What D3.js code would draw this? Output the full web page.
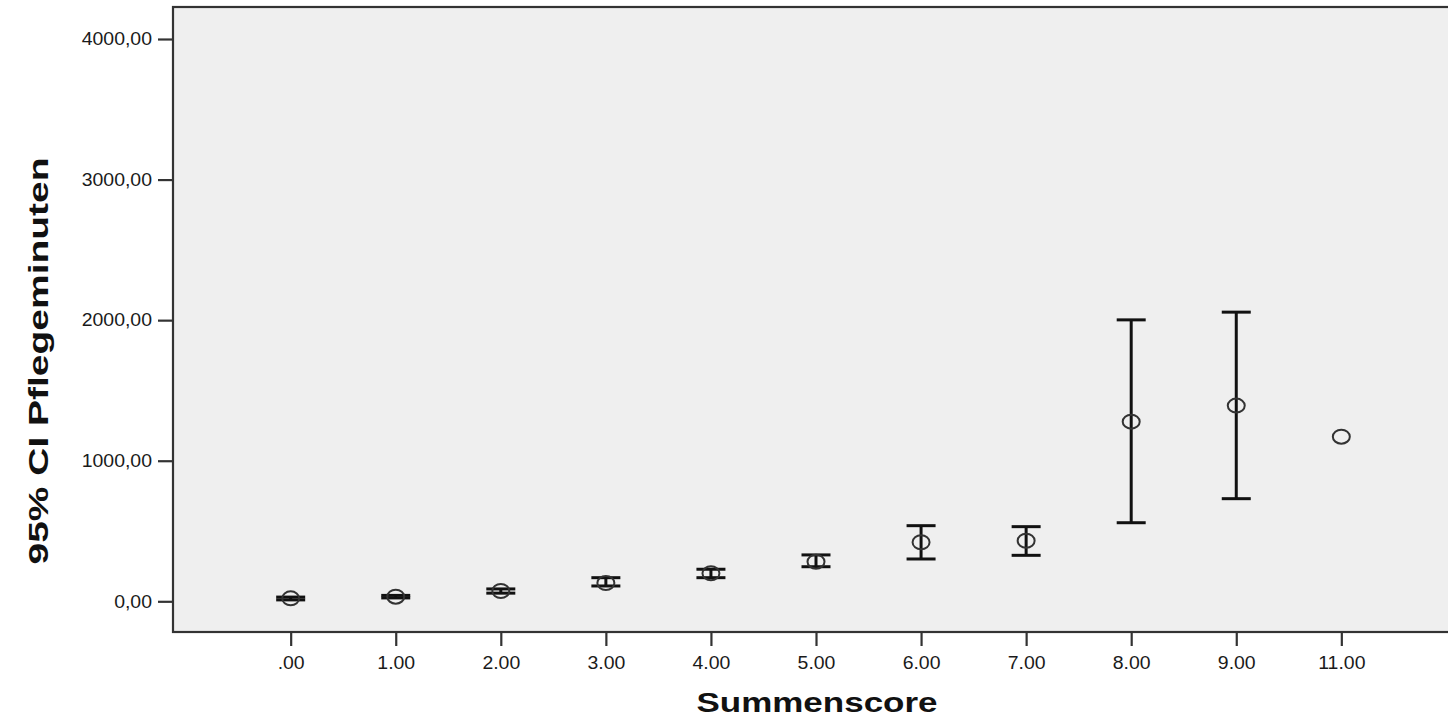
<!DOCTYPE html>
<html>
<head>
<meta charset="utf-8">
<script src="https://cdn.jsdelivr.net/npm/d3@7"></script>
<style>
  body { margin: 0; background: #fff; }
  svg { display: block; }
</style>
</head>
<body>
<svg id="chart" width="1448" height="718"></svg>
<script>
'use strict';

// Summenscore groups and the 95% CI of Pflegeminuten
var categories = [".00", "1.00", "2.00", "3.00", "4.00", "5.00", "6.00", "7.00", "8.00", "9.00", "11.00"];
var means      = [21, 33, 73, 130, 199, 282, 420, 431, 1278, 1392, 1171];
var lower      = [10, 24, 58, 109, 168, 246, 301, 327, 559, 730, null];
var upper      = [30, 42, 88, 168, 228, 330, 538, 531, 2002, 2057, null];
var yTicks     = [0, 1000, 2000, 3000, 4000];

var svg = d3.select("#chart");

// plot frame (right side runs off the picture)
var frame = { left: 173, top: 7, bottom: 632, right: 1459 };

var x = d3.scalePoint()
    .domain(categories)
    .range([frame.left, frame.right])
    .padding(1.12);

var y = d3.scaleLinear()
    .domain([0, 4000])
    .range([601.3, 39]);

svg.append("rect")
    .attr("x", frame.left)
    .attr("y", frame.top)
    .attr("width", frame.right - frame.left + 10)
    .attr("height", frame.bottom - frame.top)
    .attr("fill", "#efefef")
    .attr("stroke", "#333")
    .attr("stroke-width", 2.2);

var fmt = function(d) { return d3.format(".2f")(d).replace(".", ","); };

var yAxis = svg.append("g")
    .attr("transform", "translate(" + frame.left + ",0)")
    .call(d3.axisLeft(y).tickValues(yTicks).tickFormat(fmt).tickSize(15).tickPadding(6));

var xAxis = svg.append("g")
    .attr("transform", "translate(0," + frame.bottom + ")")
    .call(d3.axisBottom(x).tickSize(14).tickPadding(10));

[yAxis, xAxis].forEach(function(g) {
  g.select(".domain").remove();
  g.selectAll(".tick line").attr("stroke", "#333").attr("stroke-width", 2.2);
  g.selectAll(".tick text")
      .attr("fill", "#1a1a1a")
      .style("font-family", "'Liberation Sans', Arial, sans-serif")
      .style("font-size", "18px")
      .each(function() {
        // the original labels are drawn a bit wider than Arial
        var w = this.getComputedTextLength();
        d3.select(this).attr("textLength", w * 1.08).attr("lengthAdjust", "spacingAndGlyphs");
      });
});

// error bars
var capHalf = 14.5;
var withCI = categories.map(function(c, i) {
  return { cat: c, mean: means[i], lo: lower[i], hi: upper[i] };
});
var bars = withCI.filter(function(d) { return d.lo != null && d.hi != null; });

var eb = svg.append("g").attr("stroke", "#111").attr("stroke-width", 3).attr("fill", "none");

eb.selectAll("line.stem")
    .data(bars)
  .enter().append("line")
    .attr("class", "stem")
    .attr("x1", function(d) { return x(d.cat); })
    .attr("x2", function(d) { return x(d.cat); })
    .attr("y1", function(d) { return y(d.lo); })
    .attr("y2", function(d) { return y(d.hi); });

eb.selectAll("line.capHi")
    .data(bars)
  .enter().append("line")
    .attr("class", "capHi")
    .attr("x1", function(d) { return x(d.cat) - capHalf; })
    .attr("x2", function(d) { return x(d.cat) + capHalf; })
    .attr("y1", function(d) { return y(d.hi); })
    .attr("y2", function(d) { return y(d.hi); });

eb.selectAll("line.capLo")
    .data(bars)
  .enter().append("line")
    .attr("class", "capLo")
    .attr("x1", function(d) { return x(d.cat) - capHalf; })
    .attr("x2", function(d) { return x(d.cat) + capHalf; })
    .attr("y1", function(d) { return y(d.lo); })
    .attr("y2", function(d) { return y(d.lo); });

// mean markers
svg.append("g")
  .selectAll("ellipse")
    .data(withCI)
  .enter().append("ellipse")
    .attr("cx", function(d) { return x(d.cat); })
    .attr("cy", function(d) { return y(d.mean); })
    .attr("rx", 8.5)
    .attr("ry", 7)
    .attr("fill", "none")
    .attr("stroke", "#333")
    .attr("stroke-width", 2);

// axis titles
svg.append("text")
    .attr("x", 817)
    .attr("y", 712)
    .attr("text-anchor", "middle")
    .attr("textLength", 241)
    .attr("lengthAdjust", "spacingAndGlyphs")
    .attr("fill", "#111")
    .style("font-family", "'Liberation Sans', Arial, sans-serif")
    .style("font-weight", "bold")
    .style("font-size", "28px")
    .text("Summenscore");

svg.append("text")
    .attr("transform", "translate(48,361) rotate(-90)")
    .attr("text-anchor", "middle")
    .attr("textLength", 407)
    .attr("lengthAdjust", "spacingAndGlyphs")
    .attr("fill", "#111")
    .style("font-family", "'Liberation Sans', Arial, sans-serif")
    .style("font-weight", "bold")
    .style("font-size", "28px")
    .text("95% CI Pflegeminuten");
</script>
</body>
</html>
